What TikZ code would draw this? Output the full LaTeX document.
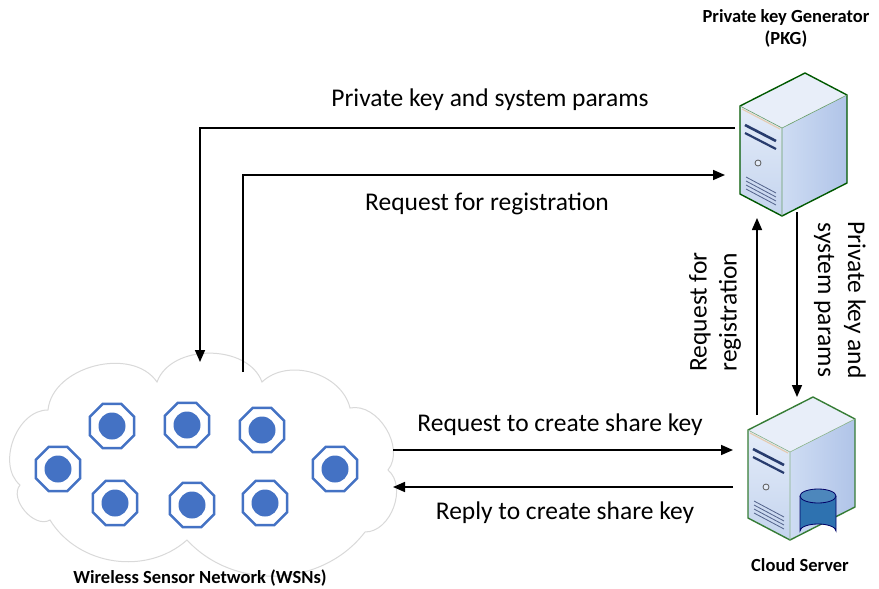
\documentclass[tikz,border=0pt]{standalone}
\usepackage{fontspec}
\setmainfont{Carlito}
\usepackage{tikz}
\usetikzlibrary{arrows.meta,shapes.geometric,positioning}

\definecolor{sensorblue}{RGB}{68,114,196}
\definecolor{baydark}{RGB}{40,60,110}
\definecolor{dbblue}{RGB}{46,114,176}
\definecolor{facelight}{RGB}{228,236,249}
\definecolor{facemid}{RGB}{196,212,238}
\definecolor{sidelight}{RGB}{206,220,243}
\definecolor{sidedark}{RGB}{176,196,232}
\definecolor{toplight}{RGB}{232,238,249}

% tower server, #1 = shift, #2 = outline colour
\newcommand{\servertower}[2]{%
\begin{scope}[shift={#1}]
  \shade[top color=facelight, bottom color=facemid] (0,0) -- (42,22) -- (42,110) -- (0,88) -- cycle;
  \shade[left color=sidelight, right color=sidedark] (42,22) -- (107,-11) -- (107,77) -- (42,110) -- cycle;
  \fill[toplight] (0,0) -- (65,-33) -- (107,-11) -- (42,22) -- cycle;
  \draw[brown!40, line width=1.2pt] (2,3) -- (40,23);
  \draw[#2, line width=1.4pt, line join=round] (0,0) -- (65,-33) -- (107,-11) -- (107,77) -- (42,110) -- (0,88) -- cycle;
  \draw[#2!60, line width=0.6pt] (0,0) -- (42,22) -- (107,-11) (42,22) -- (42,110);
  \draw[baydark, line width=2.6pt] (5,19) -- (36,35);
  \draw[baydark, line width=2.2pt] (5,27) -- (36,43);
  \draw[gray!70!black, line width=0.8pt, fill=facelight] (18,57) circle (3);
  \foreach \k in {0,4,8,12}
    \draw[baydark!80, line width=0.8pt] (6,71+\k) -- (36,87+\k);
\end{scope}}

\tikzset{
  arr/.style={line width=1.6pt, -{Triangle[length=12pt,width=10pt]}},
  lbl/.style={font=\fontsize{25.5}{30}\selectfont, inner sep=0pt},
  title/.style={font=\bfseries\fontsize{18.5}{22}\selectfont, align=center, inner sep=0pt},
  sensor/.style={regular polygon, regular polygon sides=8, draw=sensorblue, line width=2.4pt,
    minimum size=48pt, inner sep=0pt, fill=white},
  core/.style={circle, fill=sensorblue, minimum size=27pt, inner sep=0pt},
}

\begin{document}
\begin{tikzpicture}[x=1pt, y=-1pt]
\useasboundingbox[fill=white] (0,0) rectangle (879,589);

% cloud holding the sensor field
\draw[gray!30, line width=1pt, fill=white]
  (48,410) to[bend left=70] (157,382) to[bend left=70] (262,382)
  to[bend left=60] (350,408) to[bend left=70] (388,470)
  to[bend left=70] (365,532) to[bend left=50] (187,540)
  to[bend left=50] (50,520) to[bend left=80] (20,485)
  to[bend left=70] cycle;

\foreach \n/\x/\y in {1/112/426, 2/187/425, 3/262/430, 4/58/469, 5/335/469, 6/115/503, 7/192/505, 8/265/503}{
  \node[sensor] (s\n) at (\x,\y) {};
  \node[core] (c\n) at (s\n) {};
}
\node[title] (wsn) at (200,578) {Wireless Sensor Network (WSNs)};

% servers
\servertower{(740,106)}{green!35!black}
\servertower{(748,430)}{gray!60!green!70!black}
\fill[dbblue] (800,496) -- (800,531) arc[start angle=180, end angle=360, x radius=18, y radius=7] -- (836,496) -- cycle;
\draw[blue!40!black, line width=0.8pt] (800,496) -- (800,531) arc[start angle=180, end angle=360, x radius=18, y radius=7] -- (836,496);
\draw[blue!40!black, line width=0.8pt, fill=dbblue!85!white] (818,496) ellipse[x radius=18, y radius=7];

\node[title] (pkg) at (786,28) {Private key Generator\\(PKG)};
\node[title] (cloud) at (800,565) {Cloud Server};

% connector ends
\coordinate (pkgL) at (735,128);
\coordinate (pkgIn) at (725,175);
\coordinate (pkgB1) at (757,218);
\coordinate (pkgB2) at (797,212);
\coordinate (csT1) at (757,415);
\coordinate (csT2) at (797,397);
\coordinate (csL1) at (733,450);
\coordinate (csL2) at (733,487);
\coordinate (wsnIn) at (200,362);
\coordinate (wsnOut) at (243,372);
\coordinate (wsnR1) at (393,450);
\coordinate (wsnR2) at (393,487);

\draw[arr] (pkgL) -| (wsnIn);
\draw[arr] (wsnOut) |- (pkgIn);
\draw[arr] (csT1) -- (pkgB1);
\draw[arr] (pkgB2) -- (csT2);
\draw[arr] (wsnR1) -- (csL1);
\draw[arr] (csL2) -- (wsnR2);

\node[lbl] (m1) at (490,100) {Private key and system params};
\node[lbl] (m2) at (487,204) {Request for registration};
\node[lbl] (m3) at (560,425) {Request to create share key};
\node[lbl] (m4) at (565,513) {Reply to create share key};
\node[lbl, rotate=90, align=center] (m5) at (715,312) {Request for\\registration};
\node[lbl, rotate=-90, align=center] (m6) at (840,300) {Private key and\\system params};
\end{tikzpicture}
\end{document}
